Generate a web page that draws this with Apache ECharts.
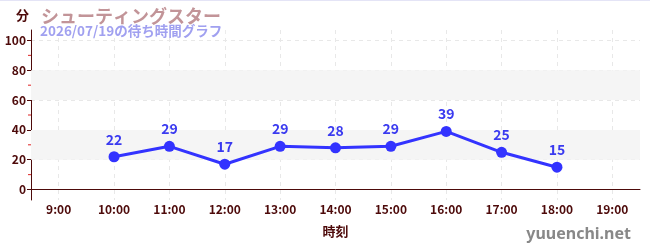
<!DOCTYPE html>
<html><head><meta charset="utf-8">
<script src="https://cdn.jsdelivr.net/npm/echarts@6/dist/echarts.min.js"></script>
<style>html,body{margin:0;padding:0;background:#fff}#c{width:650px;height:250px}</style>
</head><body><div id="c"></div>
<script>
const titleText = 'シューティングスター';
const subtitleText = '2026/07/19の待ち時間グラフ';
const categories = ['9:00','10:00','11:00','12:00','13:00','14:00','15:00','16:00','17:00','18:00','19:00'];
const waitTimes = [null, 22, 29, 17, 29, 28, 29, 39, 25, 15, null];
const yTicks = [0, 20, 40, 60, 80, 100];
const minorVals = [10, 30, 50, 70, 90];

const maroon = '#4d0a0a';
const cjk = '"Noto Sans CJK JP", "Noto Sans", sans-serif';
const chart = echarts.init(document.getElementById('c'), null, {renderer: 'canvas'});
chart.setOption({
  animation: false,
  backgroundColor: '#fff',
  textStyle: {fontFamily: cjk},
  title: [
    {text: titleText, left: 36, top: 2, textStyle: {color: '#c29498', fontSize: 18, fontWeight: 'bold', fontFamily: cjk}},
    {text: subtitleText, left: 38, top: 24, backgroundColor: '#fff', padding: [0,3,0,2],
     textStyle: {color: '#a0a0f0', fontSize: 13.5, fontWeight: 'bold', fontFamily: cjk}},
    {text: 'yuuenchi.net', right: 14, top: 221, textStyle: {color: '#888', fontSize: 16, fontWeight: 'bold', fontFamily: '"Noto Sans", sans-serif'}}
  ],
  grid: {left: 31, right: 10, top: 30, bottom: 50, containLabel: false},
  xAxis: {
    type: 'category', data: categories, boundaryGap: true,
    name: '時刻', nameLocation: 'middle', nameGap: 25,
    nameTextStyle: {color: maroon, fontSize: 13, fontWeight: 'bold'},
    axisLine: {lineStyle: {color: maroon, width: 1}},
    axisTick: {alignWithLabel: true, length: 2, lineStyle: {color: '#777'}},
    axisLabel: {color: maroon, fontSize: 12, fontWeight: 'bold', margin: 3, fontFamily: cjk},
    splitLine: {show: true, alignWithLabel: true, lineStyle: {color: '#e8e8e8', type: [4, 4]}}
  },
  yAxis: {
    type: 'value', min: -7, max: 107,
    name: '分', nameLocation: 'end', nameGap: 8,
    nameTextStyle: {color: maroon, fontSize: 13, fontWeight: 'bold', align: 'right', padding: [0, 2, 0, 0]},
    axisLine: {show: true, lineStyle: {color: maroon, width: 1}},
    axisTick: {show: true, length: 4, lineStyle: {color: maroon}, customValues: yTicks},
    minorTick: {show: false},
    axisLabel: {color: maroon, fontSize: 12, fontWeight: 'bold', margin: 5, customValues: yTicks, fontFamily: cjk},
    splitLine: {show: true, lineStyle: {color: '#e8e8e8', type: [4, 4]}, customValues: yTicks},
    splitArea: {show: false}
  },
  series: [
    {
      type: 'line', data: waitTimes, connectNulls: false,
      symbol: 'circle', symbolSize: 11,
      lineStyle: {color: '#3333ff', width: 3},
      itemStyle: {color: '#3333ff'},
      label: {show: true, position: 'top', distance: 5, color: '#3a3af0', fontSize: 14, fontWeight: 'bold', fontFamily: cjk},
      markArea: {silent: true, itemStyle: {color: '#f5f5f5'}, label: {show: false},
        data: [[{yAxis: 20}, {yAxis: 40}], [{yAxis: 60}, {yAxis: 80}]]},
      z: 3
    }
  ]
});
const gr = minorVals.map(v => {
  const y = chart.convertToPixel({yAxisIndex: 0}, v);
  return {type: 'line', shape: {x1: 28, y1: y, x2: 31, y2: y}, style: {stroke: '#dd2222', lineWidth: 1}, z: 10};
});
gr.push({type: 'rect', left: 0, top: 0, shape: {width: 650, height: 1}, style: {fill: '#e4e4f6'}});
chart.setOption({graphic: gr});
</script></body></html>
